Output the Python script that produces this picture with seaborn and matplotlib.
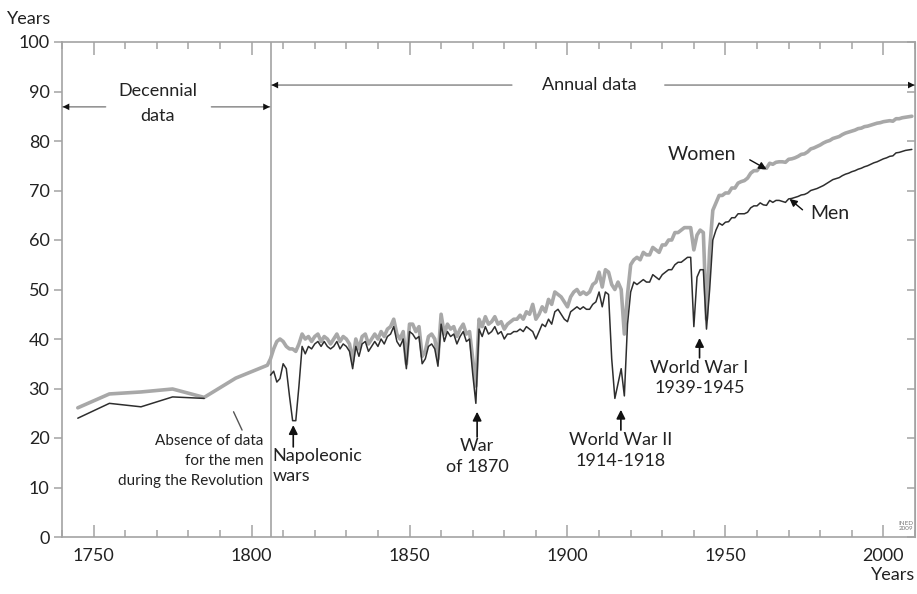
import numpy as np
import pandas as pd
import matplotlib
matplotlib.use("Agg")
import matplotlib.pyplot as plt
import matplotlib.ticker as ticker
import seaborn as sns

# Decennial estimates (before 1806)
dec_years_women = [1745, 1755, 1765, 1775, 1785, 1795, 1805]
dec_women = [26.1, 28.9, 29.3, 29.9, 28.2, 32.1, 34.7]
dec_years_men = [1745, 1755, 1765, 1775, 1785]
dec_men = [24.0, 27.0, 26.3, 28.3, 28.0]

# Annual data 1806-2009
annual_years = list(range(1806, 2010))

men = [
    32.7, 33.5, 31.3, 32.0, 35.0, 34.0, 28.5, 23.5, 23.5, 30.5,   # 1806-1815
    38.5, 37.0, 38.5, 38.0, 39.0, 39.5, 38.5, 39.5, 38.5, 38.0,   # 1816
    38.5, 39.5, 38.0, 39.0, 38.5, 37.5, 34.0, 38.5, 36.5, 39.0,   # 1826
    39.5, 37.5, 38.5, 39.5, 38.5, 40.0, 39.0, 40.5, 41.0, 42.5,   # 1836
    39.5, 38.5, 40.0, 34.0, 41.5, 41.0, 40.0, 40.5, 35.0, 36.0,   # 1846
    38.5, 39.0, 38.0, 34.5, 43.0, 39.5, 41.5, 40.5, 41.0, 39.0,   # 1856
    40.5, 41.5, 39.5, 40.0, 33.0, 27.0, 42.0, 40.5, 42.5, 41.0,   # 1866
    41.5, 42.5, 41.0, 41.5, 40.0, 41.0, 41.0, 41.5, 41.5, 42.0,   # 1876
    41.5, 42.5, 42.0, 41.5, 40.0, 41.5, 43.0, 42.5, 44.0, 43.0,   # 1886
    45.5, 46.0, 45.0, 44.0, 43.5, 45.5, 46.0, 46.5, 46.0, 46.5,   # 1896
    46.0, 46.0, 47.0, 47.5, 49.5, 46.5, 49.5, 49.0, 36.0, 28.0,   # 1906
    31.0, 34.0, 28.5, 43.0, 49.5, 51.5, 51.0, 51.5, 52.0, 51.5,   # 1916
    51.5, 53.0, 52.5, 52.0, 53.0, 53.5, 54.0, 54.0, 55.0, 55.5,   # 1926
    55.5, 56.0, 56.5, 56.5, 42.5, 52.5, 54.0, 54.0, 42.0, 50.0,   # 1936
    60.0, 62.0, 63.4, 63.0, 63.6, 63.7, 64.5, 64.5, 65.3, 65.3,   # 1946
    65.3, 65.6, 66.5, 66.9, 66.9, 67.5, 67.1, 67.0, 68.0, 67.6,   # 1956
    68.0, 68.0, 67.8, 67.6, 68.3, 68.4, 68.6, 68.8, 69.1, 69.2,   # 1966
    69.5, 70.0, 70.2, 70.4, 70.7, 71.0, 71.4, 71.8, 72.2, 72.4,   # 1976
    72.6, 73.0, 73.3, 73.5, 73.8, 74.0, 74.3, 74.5, 74.8, 75.0,   # 1986
    75.3, 75.6, 75.8, 76.1, 76.4, 76.6, 76.9, 77.0, 77.6, 77.7,   # 1996
    77.9, 78.1, 78.2, 78.3,                                       # 2006-2009
]

women = [
    36.0, 38.0, 39.5, 40.0, 39.5, 38.5, 38.0, 38.0, 37.5, 39.0,   # 1806-1815
    41.0, 40.0, 40.5, 39.5, 40.5, 41.0, 39.5, 40.5, 40.0, 39.0,   # 1816
    40.0, 41.0, 39.5, 40.5, 40.0, 39.0, 35.5, 40.0, 38.0, 40.5,   # 1826
    41.0, 39.0, 40.0, 41.0, 40.0, 41.5, 40.5, 42.0, 42.5, 44.0,   # 1836
    41.0, 40.0, 41.5, 35.0, 43.0, 43.0, 41.5, 42.5, 36.5, 37.5,   # 1846
    40.5, 41.0, 40.0, 36.0, 45.0, 41.0, 43.0, 42.0, 42.5, 40.5,   # 1856
    42.0, 43.0, 41.0, 41.5, 36.0, 30.5, 44.0, 42.5, 44.5, 43.0,   # 1866
    43.5, 44.5, 43.0, 43.5, 42.0, 43.0, 43.5, 44.0, 44.0, 44.8,   # 1876
    44.0, 45.5, 45.0, 47.0, 44.0, 45.0, 46.5, 45.5, 48.0, 47.0,   # 1886
    49.5, 49.0, 48.5, 47.5, 46.5, 48.5, 49.5, 50.0, 49.0, 49.5,   # 1896
    49.0, 49.5, 51.0, 51.5, 53.5, 50.5, 54.0, 53.5, 51.0, 50.0,   # 1906
    51.5, 50.0, 41.0, 49.0, 55.0, 56.0, 56.5, 56.0, 57.5, 57.0,   # 1916
    57.0, 58.5, 58.0, 57.5, 59.0, 59.0, 60.0, 60.0, 61.5, 61.5,   # 1926
    62.0, 62.5, 62.5, 62.5, 58.0, 61.0, 62.0, 61.5, 44.0, 58.0,   # 1936
    66.0, 67.5, 69.0, 69.0, 69.5, 69.5, 70.5, 70.5, 71.5, 71.8,   # 1946
    72.0, 72.5, 73.5, 74.0, 74.0, 74.8, 74.5, 74.5, 75.5, 75.3,   # 1956
    75.7, 75.8, 75.8, 75.7, 76.3, 76.4, 76.6, 76.9, 77.3, 77.4,   # 1966
    77.8, 78.4, 78.6, 78.9, 79.2, 79.6, 79.9, 80.1, 80.5, 80.7,   # 1976
    80.9, 81.3, 81.6, 81.8, 82.0, 82.2, 82.5, 82.6, 82.9, 83.0,   # 1986
    83.2, 83.4, 83.6, 83.7, 83.9, 84.0, 84.1, 84.0, 84.5, 84.5,   # 1996
    84.7, 84.8, 84.9, 85.0,                                       # 2006-2009
]

ANNUAL_START = 1806
INK = "#222222"
AXIS_GREY = "#a3a3a3"


def build_frame():
    parts = [
        pd.DataFrame({"year": dec_years_women + annual_years,
                      "e0": dec_women + women, "sex": "Women", "seg": "w"}),
        pd.DataFrame({"year": dec_years_men, "e0": dec_men,
                      "sex": "Men", "seg": "m_dec"}),
        pd.DataFrame({"year": annual_years, "e0": men,
                      "sex": "Men", "seg": "m_ann"}),
    ]
    return pd.concat(parts, ignore_index=True)


def span_arrow(ax, tip, tail):
    # grey shaft, black head
    ax.annotate("", xy=tip, xytext=tail,
                arrowprops=dict(arrowstyle="-", color="#8c8c8c", lw=1.1,
                                shrinkA=0, shrinkB=0))
    ax.annotate("", xy=tip, xytext=tail,
                arrowprops=dict(arrowstyle="-|>", color="#111111", lw=0,
                                mutation_scale=12, shrinkA=0, shrinkB=0))


sns.set_style("ticks")
plt.rcParams["font.family"] = ["Lato", "DejaVu Sans"]

df = build_frame()

fig, ax = plt.subplots(figsize=(9.17, 5.94), dpi=100)
fig.subplots_adjust(left=62 / 917, right=915 / 917, bottom=57 / 594, top=552 / 594)

sns.lineplot(data=df, x="year", y="e0", hue="sex", size="sex", units="seg",
             estimator=None, hue_order=["Women", "Men"],
             palette={"Women": "#a8a8a8", "Men": "#2e2e2e"},
             sizes={"Women": 2.6, "Men": 1.1}, legend=False, ax=ax)

ax.axvline(ANNUAL_START, color=AXIS_GREY, lw=1.2, zorder=0)

ax.set_xlim(1740, 2010)
ax.set_ylim(0, 100)
ax.set_xlabel("")
ax.set_ylabel("")
ax.xaxis.set_major_locator(ticker.MultipleLocator(50))
ax.xaxis.set_minor_locator(ticker.MultipleLocator(10))
ax.yaxis.set_major_locator(ticker.MultipleLocator(10))

for sp in ax.spines.values():
    sp.set_visible(True)
    sp.set_color(AXIS_GREY)
    sp.set_linewidth(1.2)

ax.tick_params(axis="x", which="both", direction="in", top=True, bottom=True,
               color=AXIS_GREY, width=1.1, labelsize=13, labelcolor=INK, pad=8)
ax.tick_params(axis="x", which="major", length=9)
ax.tick_params(axis="x", which="minor", length=5)
ax.tick_params(axis="y", direction="out", left=True, right=False, length=6,
               color=AXIS_GREY, width=1.1, labelsize=13, labelcolor=INK, pad=3)

# inward ticks on the right edge
rax = ax.secondary_yaxis("right")
rax.yaxis.set_major_locator(ticker.MultipleLocator(10))
rax.tick_params(direction="in", length=6, color=AXIS_GREY, width=1.1, labelright=False)
rax.spines["right"].set_color(AXIS_GREY)

fig.text(29 / 917, 1 - 19 / 594, "Years", ha="center", va="center", fontsize=13, color=INK)
fig.text(915 / 917, 1 - 575 / 594, "Years", ha="right", va="center", fontsize=13, color=INK)

# period arrows
ax.text(1770.2, 90.1, "Decennial", ha="center", va="center", fontsize=13, color=INK)
ax.text(1770.2, 85.1, "data", ha="center", va="center", fontsize=13, color=INK)
span_arrow(ax, (1740.2, 86.9), (1753.8, 86.9))
span_arrow(ax, (1805.8, 86.9), (1787.3, 86.9))

ax.text(1906.8, 91.3, "Annual data", ha="center", va="center", fontsize=13, color=INK)
span_arrow(ax, (1806.3, 91.3), (1882.4, 91.3))
span_arrow(ax, (2009.9, 91.3), (1930.8, 91.3))

# series labels
label_kw = dict(arrowstyle="-|>", color="#111111", lw=1.0, mutation_scale=11,
                shrinkA=0, shrinkB=0)
ax.text(1942.5, 77.2, "Women", ha="center", va="center", fontsize=14, color=INK)
ax.annotate("", xy=(1963.0, 74.3), xytext=(1957.7, 76.2), arrowprops=label_kw)
ax.text(1983.0, 65.3, "Men", ha="center", va="center", fontsize=14, color=INK)
ax.annotate("", xy=(1970.3, 68.3), xytext=(1974.4, 66.1), arrowprops=label_kw)

# war events: (arrow x, tail, tip, label, text x, text top, alignment)
war_x = [1813.2, 1871.4, 1916.9, 1941.8]
war_tail = [18.2, 20.2, 21.6, 36.2]
war_tip = [22.6, 25.3, 25.7, 40.2]
war_labels = ["Napoleonic\nwars", "War\nof 1870", "World War II\n1914-1918",
              "World War I\n1939-1945"]
war_text_x = [1806.6, 1871.4, 1916.9, 1941.8]
war_text_top = [18.0, 19.9, 21.2, 35.8]
war_ha = ["left", "center", "center", "center"]

up_kw = dict(arrowstyle="-|>", color="#111111", lw=1.2, mutation_scale=13,
             shrinkA=0, shrinkB=0)
for x, t0, t1, lab, tx, ty, ha in zip(war_x, war_tail, war_tip, war_labels,
                                      war_text_x, war_text_top, war_ha):
    ax.annotate("", xy=(x, t1), xytext=(x, t0), arrowprops=up_kw)
    ax.text(tx, ty, lab, ha=ha, va="top", fontsize=13, color=INK,
            linespacing=1.35, multialignment=ha)

ax.text(1803.7, 20.8, "Absence of data\nfor the men\nduring the Revolution",
        ha="right", va="top", fontsize=11, color=INK, linespacing=1.55,
        multialignment="right")
ax.plot([1794.3, 1797.0], [25.3, 21.6], color="#555555", lw=1.0)

ax.text(2009.4, 1.2, "INED\n2009", ha="right", va="bottom", fontsize=4.5,
        color="#777777", linespacing=0.9)

fig.savefig("out.png", dpi=100)
plt.close(fig)
